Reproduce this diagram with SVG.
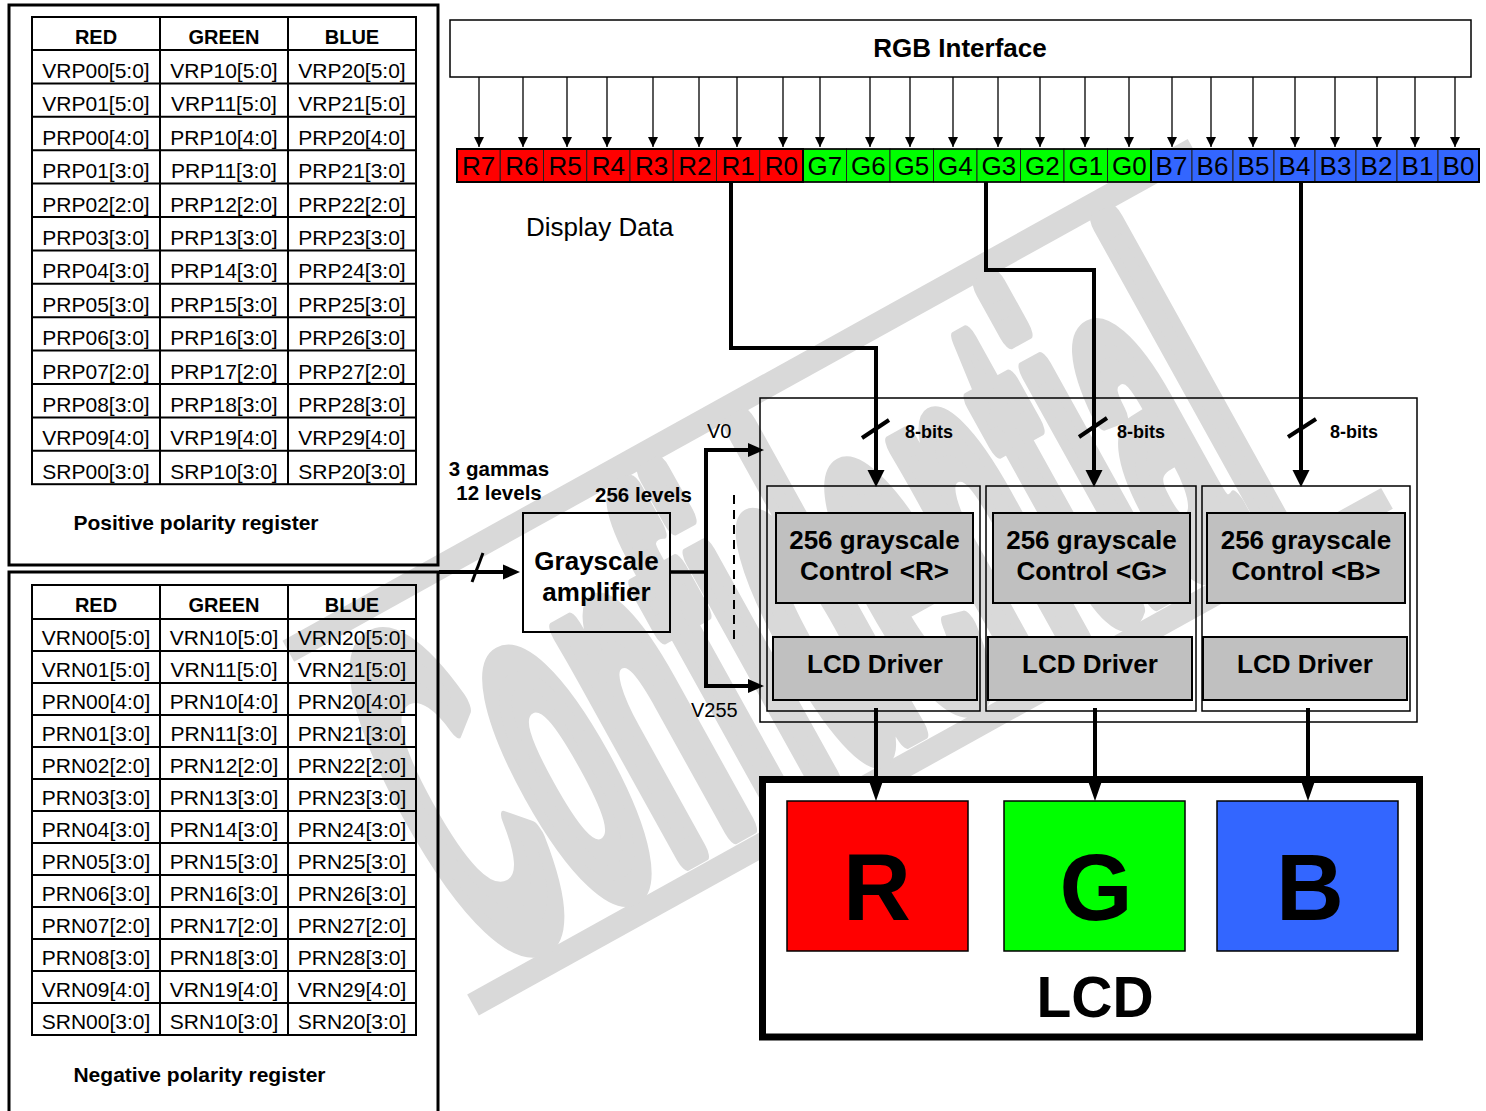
<svg xmlns="http://www.w3.org/2000/svg" width="1486" height="1111" viewBox="0 0 1486 1111">
<defs>
<style>
text { font-family: "Liberation Sans", Arial, sans-serif; fill: #000; }
.c { font-size: 21px; text-anchor: middle; }
.h { font-size: 20px; font-weight: bold; text-anchor: middle; }
.bold { font-weight: bold; }
.mid { text-anchor: middle; }
.grid { stroke: #000; stroke-width: 2; fill: none; }
.panel { stroke: #000; stroke-width: 3; fill: none; }
.bit { font-size: 26px; text-anchor: middle; }
.cellR { fill: #ff0000; stroke: #222; stroke-width: 1; }
.cellG { fill: #00ff00; stroke: #222; stroke-width: 1; }
.cellB { fill: #3366ff; stroke: #222; stroke-width: 1; }
.gray { fill: #c0c0c0; stroke: #000; stroke-width: 2; }
.box { fill: none; stroke: #000; stroke-width: 1.5; }
.thin { stroke: #000; stroke-width: 1.3; fill: none; }
.thick { stroke: #000; stroke-width: 4; fill: none; }
.wm { fill: #d9d9d9; }
text.wm { fill: #d9d9d9; stroke: #d9d9d9; stroke-width: 30; stroke-linejoin: round; }
</style>
<marker id="ah" viewBox="0 0 10 10" refX="10" refY="5" markerWidth="10" markerHeight="10" markerUnits="userSpaceOnUse" orient="auto">
<path d="M0,0 L10,5 L0,10 z" fill="#000"/>
</marker>
</defs>
<rect width="1486" height="1111" fill="#fff"/>

<g id="watermark" transform="translate(473,1005) rotate(-29)">
<rect class="wm" x="0" y="-12" width="1045" height="24"/>
<rect class="wm" x="10" y="-411" width="1035" height="24"/>
<text class="wm" transform="translate(28,-28) scale(0.335,1)" x="0" y="0" font-size="480" font-weight="bold">Confidential</text>
</g>

<g id="positive-register">
<rect class="panel" x="9" y="5" width="429" height="560"/>
<rect class="grid" x="32" y="17" width="384" height="467.2"/>
<path class="grid" d="M160,17V484.2 M288,17V484.2 M32,50H416 M32,83.4H416 M32,116.8H416 M32,150.2H416 M32,183.6H416 M32,217H416 M32,250.4H416 M32,283.8H416 M32,317.2H416 M32,350.6H416 M32,384H416 M32,417.4H416 M32,450.8H416"/>
<text class="h" x="96" y="44">RED</text><text class="h" x="224" y="44">GREEN</text><text class="h" x="352" y="44">BLUE</text>
<text class="c" x="96" y="78">VRP00[5:0]</text><text class="c" x="224" y="78">VRP10[5:0]</text><text class="c" x="352" y="78">VRP20[5:0]</text>
<text class="c" x="96" y="111.4">VRP01[5:0]</text><text class="c" x="224" y="111.4">VRP11[5:0]</text><text class="c" x="352" y="111.4">VRP21[5:0]</text>
<text class="c" x="96" y="144.8">PRP00[4:0]</text><text class="c" x="224" y="144.8">PRP10[4:0]</text><text class="c" x="352" y="144.8">PRP20[4:0]</text>
<text class="c" x="96" y="178.2">PRP01[3:0]</text><text class="c" x="224" y="178.2">PRP11[3:0]</text><text class="c" x="352" y="178.2">PRP21[3:0]</text>
<text class="c" x="96" y="211.6">PRP02[2:0]</text><text class="c" x="224" y="211.6">PRP12[2:0]</text><text class="c" x="352" y="211.6">PRP22[2:0]</text>
<text class="c" x="96" y="245">PRP03[3:0]</text><text class="c" x="224" y="245">PRP13[3:0]</text><text class="c" x="352" y="245">PRP23[3:0]</text>
<text class="c" x="96" y="278.4">PRP04[3:0]</text><text class="c" x="224" y="278.4">PRP14[3:0]</text><text class="c" x="352" y="278.4">PRP24[3:0]</text>
<text class="c" x="96" y="311.8">PRP05[3:0]</text><text class="c" x="224" y="311.8">PRP15[3:0]</text><text class="c" x="352" y="311.8">PRP25[3:0]</text>
<text class="c" x="96" y="345.2">PRP06[3:0]</text><text class="c" x="224" y="345.2">PRP16[3:0]</text><text class="c" x="352" y="345.2">PRP26[3:0]</text>
<text class="c" x="96" y="378.6">PRP07[2:0]</text><text class="c" x="224" y="378.6">PRP17[2:0]</text><text class="c" x="352" y="378.6">PRP27[2:0]</text>
<text class="c" x="96" y="412">PRP08[3:0]</text><text class="c" x="224" y="412">PRP18[3:0]</text><text class="c" x="352" y="412">PRP28[3:0]</text>
<text class="c" x="96" y="445.4">VRP09[4:0]</text><text class="c" x="224" y="445.4">VRP19[4:0]</text><text class="c" x="352" y="445.4">VRP29[4:0]</text>
<text class="c" x="96" y="478.8">SRP00[3:0]</text><text class="c" x="224" y="478.8">SRP10[3:0]</text><text class="c" x="352" y="478.8">SRP20[3:0]</text>
<text class="bold mid" x="196" y="530" font-size="21">Positive polarity register</text>
</g>

<g id="negative-register">
<rect class="panel" x="9" y="572" width="429" height="560"/>
<rect class="grid" x="32" y="585" width="384" height="450"/>
<path class="grid" d="M160,585V1035 M288,585V1035 M32,619H416 M32,651H416 M32,683H416 M32,715H416 M32,747H416 M32,779H416 M32,811H416 M32,843H416 M32,875H416 M32,907H416 M32,939H416 M32,971H416 M32,1003H416"/>
<text class="h" x="96" y="612">RED</text><text class="h" x="224" y="612">GREEN</text><text class="h" x="352" y="612">BLUE</text>
<text class="c" x="96" y="644.5">VRN00[5:0]</text><text class="c" x="224" y="644.5">VRN10[5:0]</text><text class="c" x="352" y="644.5">VRN20[5:0]</text>
<text class="c" x="96" y="676.5">VRN01[5:0]</text><text class="c" x="224" y="676.5">VRN11[5:0]</text><text class="c" x="352" y="676.5">VRN21[5:0]</text>
<text class="c" x="96" y="708.5">PRN00[4:0]</text><text class="c" x="224" y="708.5">PRN10[4:0]</text><text class="c" x="352" y="708.5">PRN20[4:0]</text>
<text class="c" x="96" y="740.5">PRN01[3:0]</text><text class="c" x="224" y="740.5">PRN11[3:0]</text><text class="c" x="352" y="740.5">PRN21[3:0]</text>
<text class="c" x="96" y="772.5">PRN02[2:0]</text><text class="c" x="224" y="772.5">PRN12[2:0]</text><text class="c" x="352" y="772.5">PRN22[2:0]</text>
<text class="c" x="96" y="804.5">PRN03[3:0]</text><text class="c" x="224" y="804.5">PRN13[3:0]</text><text class="c" x="352" y="804.5">PRN23[3:0]</text>
<text class="c" x="96" y="836.5">PRN04[3:0]</text><text class="c" x="224" y="836.5">PRN14[3:0]</text><text class="c" x="352" y="836.5">PRN24[3:0]</text>
<text class="c" x="96" y="868.5">PRN05[3:0]</text><text class="c" x="224" y="868.5">PRN15[3:0]</text><text class="c" x="352" y="868.5">PRN25[3:0]</text>
<text class="c" x="96" y="900.5">PRN06[3:0]</text><text class="c" x="224" y="900.5">PRN16[3:0]</text><text class="c" x="352" y="900.5">PRN26[3:0]</text>
<text class="c" x="96" y="932.5">PRN07[2:0]</text><text class="c" x="224" y="932.5">PRN17[2:0]</text><text class="c" x="352" y="932.5">PRN27[2:0]</text>
<text class="c" x="96" y="964.5">PRN08[3:0]</text><text class="c" x="224" y="964.5">PRN18[3:0]</text><text class="c" x="352" y="964.5">PRN28[3:0]</text>
<text class="c" x="96" y="996.5">VRN09[4:0]</text><text class="c" x="224" y="996.5">VRN19[4:0]</text><text class="c" x="352" y="996.5">VRN29[4:0]</text>
<text class="c" x="96" y="1028.5">SRN00[3:0]</text><text class="c" x="224" y="1028.5">SRN10[3:0]</text><text class="c" x="352" y="1028.5">SRN20[3:0]</text>
<text class="bold mid" x="199.5" y="1082" font-size="21">Negative polarity register</text>
</g>

<g id="rgb-interface">
<rect class="box" x="450" y="20" width="1021" height="57"/>
<text class="bold mid" x="960" y="57" font-size="26">RGB Interface</text>
</g>

<g id="display-data">
<rect class="cellR" x="457" y="149" width="43.25" height="33"/>
<rect class="cellR" x="500.25" y="149" width="43.25" height="33"/>
<rect class="cellR" x="543.5" y="149" width="43.25" height="33"/>
<rect class="cellR" x="586.75" y="149" width="43.25" height="33"/>
<rect class="cellR" x="630" y="149" width="43.25" height="33"/>
<rect class="cellR" x="673.25" y="149" width="43.25" height="33"/>
<rect class="cellR" x="716.5" y="149" width="43.25" height="33"/>
<rect class="cellR" x="759.75" y="149" width="43.25" height="33"/>
<rect class="cellG" x="803" y="149" width="43.5" height="33"/>
<rect class="cellG" x="846.5" y="149" width="43.5" height="33"/>
<rect class="cellG" x="890" y="149" width="43.5" height="33"/>
<rect class="cellG" x="933.5" y="149" width="43.5" height="33"/>
<rect class="cellG" x="977" y="149" width="43.5" height="33"/>
<rect class="cellG" x="1020.5" y="149" width="43.5" height="33"/>
<rect class="cellG" x="1064" y="149" width="43.5" height="33"/>
<rect class="cellG" x="1107.5" y="149" width="43.5" height="33"/>
<rect class="cellB" x="1151" y="149" width="41" height="33"/>
<rect class="cellB" x="1192" y="149" width="41" height="33"/>
<rect class="cellB" x="1233" y="149" width="41" height="33"/>
<rect class="cellB" x="1274" y="149" width="41" height="33"/>
<rect class="cellB" x="1315" y="149" width="41" height="33"/>
<rect class="cellB" x="1356" y="149" width="41" height="33"/>
<rect class="cellB" x="1397" y="149" width="41" height="33"/>
<rect class="cellB" x="1438" y="149" width="41" height="33"/>
<rect x="457" y="149" width="346" height="33" fill="none" stroke="#000" stroke-width="2"/>
<rect x="803" y="149" width="348" height="33" fill="none" stroke="#000" stroke-width="1.5"/>
<rect x="1151" y="149" width="328" height="33" fill="none" stroke="#000" stroke-width="2"/>
<text class="bit" x="478.6" y="175">R7</text><text class="bit" x="521.9" y="175">R6</text>
<text class="bit" x="565.1" y="175">R5</text><text class="bit" x="608.4" y="175">R4</text>
<text class="bit" x="651.6" y="175">R3</text><text class="bit" x="694.9" y="175">R2</text>
<text class="bit" x="738.1" y="175">R1</text><text class="bit" x="781.4" y="175">R0</text>
<text class="bit" x="824.75" y="175">G7</text><text class="bit" x="868.25" y="175">G6</text>
<text class="bit" x="911.75" y="175">G5</text><text class="bit" x="955.25" y="175">G4</text>
<text class="bit" x="998.75" y="175">G3</text><text class="bit" x="1042.25" y="175">G2</text>
<text class="bit" x="1085.75" y="175">G1</text><text class="bit" x="1129.25" y="175">G0</text>
<text class="bit" x="1171.5" y="175">B7</text><text class="bit" x="1212.5" y="175">B6</text>
<text class="bit" x="1253.5" y="175">B5</text><text class="bit" x="1294.5" y="175">B4</text>
<text class="bit" x="1335.5" y="175">B3</text><text class="bit" x="1376.5" y="175">B2</text>
<text class="bit" x="1417.5" y="175">B1</text><text class="bit" x="1458.5" y="175">B0</text>
<text x="526" y="236" font-size="26">Display Data</text>
</g>

<g id="grayscale-amplifier">
<rect x="523" y="513" width="147" height="119" fill="none" stroke="#000" stroke-width="2"/>
<text class="bold mid" x="596.5" y="570" font-size="26">Grayscale</text>
<text class="bold mid" x="596.5" y="601" font-size="26">amplifier</text>
<text class="bold mid" x="499" y="476" font-size="20.5">3 gammas</text>
<text class="bold mid" x="499" y="500" font-size="20.5">12 levels</text>
<text class="bold mid" x="643.5" y="502" font-size="20.5">256 levels</text>
<text x="707" y="438" font-size="20">V0</text>
<text x="691" y="717" font-size="20">V255</text>
</g>

<g id="driver-block">
<rect class="box" x="760" y="398" width="657" height="324"/>
<rect class="box" x="767" y="486" width="213" height="225"/>
<rect class="box" x="986" y="486" width="210" height="225"/>
<rect class="box" x="1202" y="486" width="208" height="225"/>
<text class="bold" x="905" y="438" font-size="18">8-bits</text>
<text class="bold" x="1117" y="438" font-size="18">8-bits</text>
<text class="bold" x="1330" y="438" font-size="18">8-bits</text>
</g>

<g id="control-r">
<rect class="gray" x="776" y="513" width="197" height="90"/>
<text class="bold mid" x="874.5" y="549" font-size="26">256 grayscale</text>
<text class="bold mid" x="874.5" y="580" font-size="26">Control &lt;R&gt;</text>
</g>
<g id="control-g">
<rect class="gray" x="993" y="513" width="197" height="90"/>
<text class="bold mid" x="1091.5" y="549" font-size="26">256 grayscale</text>
<text class="bold mid" x="1091.5" y="580" font-size="26">Control &lt;G&gt;</text>
</g>
<g id="control-b">
<rect class="gray" x="1207" y="513" width="198" height="90"/>
<text class="bold mid" x="1306" y="549" font-size="26">256 grayscale</text>
<text class="bold mid" x="1306" y="580" font-size="26">Control &lt;B&gt;</text>
</g>
<g id="driver-r">
<rect class="gray" x="773" y="637" width="204" height="63"/>
<text class="bold mid" x="875" y="673" font-size="26">LCD Driver</text>
</g>
<g id="driver-g">
<rect class="gray" x="988" y="637" width="204" height="63"/>
<text class="bold mid" x="1090" y="673" font-size="26">LCD Driver</text>
</g>
<g id="driver-b">
<rect class="gray" x="1203" y="637" width="204" height="63"/>
<text class="bold mid" x="1305" y="673" font-size="26">LCD Driver</text>
</g>

<g id="lcd">
<rect x="762.5" y="779.5" width="657" height="257.5" fill="#fff" stroke="#000" stroke-width="7"/>
<rect x="787" y="801" width="181" height="150" fill="#ff0000" stroke="#000" stroke-width="1.5"/>
<rect x="1004" y="801" width="181" height="150" fill="#00ff00" stroke="#000" stroke-width="1.5"/>
<rect x="1217" y="801" width="181" height="150" fill="#3366ff" stroke="#000" stroke-width="1.5"/>
<text class="bold mid" x="877" y="920" font-size="94">R</text>
<text class="bold mid" x="1096" y="920" font-size="94">G</text>
<text class="bold mid" x="1310" y="920" font-size="94">B</text>
<text class="bold mid" x="1095" y="1017" font-size="57">LCD</text>
</g>

<g id="connectors">
<g class="thin" marker-end="url(#ah)">
<line x1="479" y1="77" x2="479" y2="147"/><line x1="523" y1="77" x2="523" y2="147"/>
<line x1="567" y1="77" x2="567" y2="147"/><line x1="607" y1="77" x2="607" y2="147"/>
<line x1="653" y1="77" x2="653" y2="147"/><line x1="699" y1="77" x2="699" y2="147"/>
<line x1="737" y1="77" x2="737" y2="147"/><line x1="783" y1="77" x2="783" y2="147"/>
<line x1="820" y1="77" x2="820" y2="147"/><line x1="870" y1="77" x2="870" y2="147"/>
<line x1="910" y1="77" x2="910" y2="147"/><line x1="953" y1="77" x2="953" y2="147"/>
<line x1="998" y1="77" x2="998" y2="147"/><line x1="1040" y1="77" x2="1040" y2="147"/>
<line x1="1085" y1="77" x2="1085" y2="147"/><line x1="1129" y1="77" x2="1129" y2="147"/>
<line x1="1172" y1="77" x2="1172" y2="147"/><line x1="1211" y1="77" x2="1211" y2="147"/>
<line x1="1253" y1="77" x2="1253" y2="147"/><line x1="1295" y1="77" x2="1295" y2="147"/>
<line x1="1335" y1="77" x2="1335" y2="147"/><line x1="1377" y1="77" x2="1377" y2="147"/>
<line x1="1415" y1="77" x2="1415" y2="147"/><line x1="1455" y1="77" x2="1455" y2="147"/>
</g>
<polyline class="thick" points="731,182 731,348 876,348 876,472"/>
<polygon points="867.5,470 884.5,470 876,487"/>
<polyline class="thick" points="986,182 986,270 1094,270 1094,472"/>
<polygon points="1085.5,470 1102.5,470 1094,487"/>
<polyline class="thick" points="1301,182 1301,472"/>
<polygon points="1292.5,470 1309.5,470 1301,487"/>
<line class="thick" x1="862" y1="438" x2="889" y2="420"/>
<line class="thick" x1="1079" y1="437" x2="1107" y2="418"/>
<line class="thick" x1="1288" y1="437" x2="1316" y2="419"/>
<line class="thick" x1="439" y1="572" x2="505" y2="572"/>
<polygon points="503,564.5 503,579.5 520,572"/>
<line x1="472" y1="582" x2="483" y2="553" stroke="#000" stroke-width="3"/>
<line x1="670" y1="572" x2="706" y2="572" stroke="#000" stroke-width="3.5"/>
<line class="thick" x1="706" y1="448" x2="706" y2="688"/>
<line class="thick" x1="704" y1="450" x2="750" y2="450"/>
<polygon points="748,443 748,457 764,450"/>
<line class="thick" x1="704" y1="686" x2="750" y2="686"/>
<polygon points="748,679 748,693 764,686"/>
<line x1="734" y1="495" x2="734" y2="642" stroke="#000" stroke-width="2" stroke-dasharray="9,6"/>
<line class="thick" x1="876" y1="708" x2="876" y2="781"/>
<polygon points="868,778 884,778 876,801"/>
<line class="thick" x1="1095" y1="708" x2="1095" y2="781"/>
<polygon points="1087,778 1103,778 1095,801"/>
<line class="thick" x1="1308" y1="708" x2="1308" y2="781"/>
<polygon points="1300,778 1316,778 1308,801"/>
</g>
</svg>
